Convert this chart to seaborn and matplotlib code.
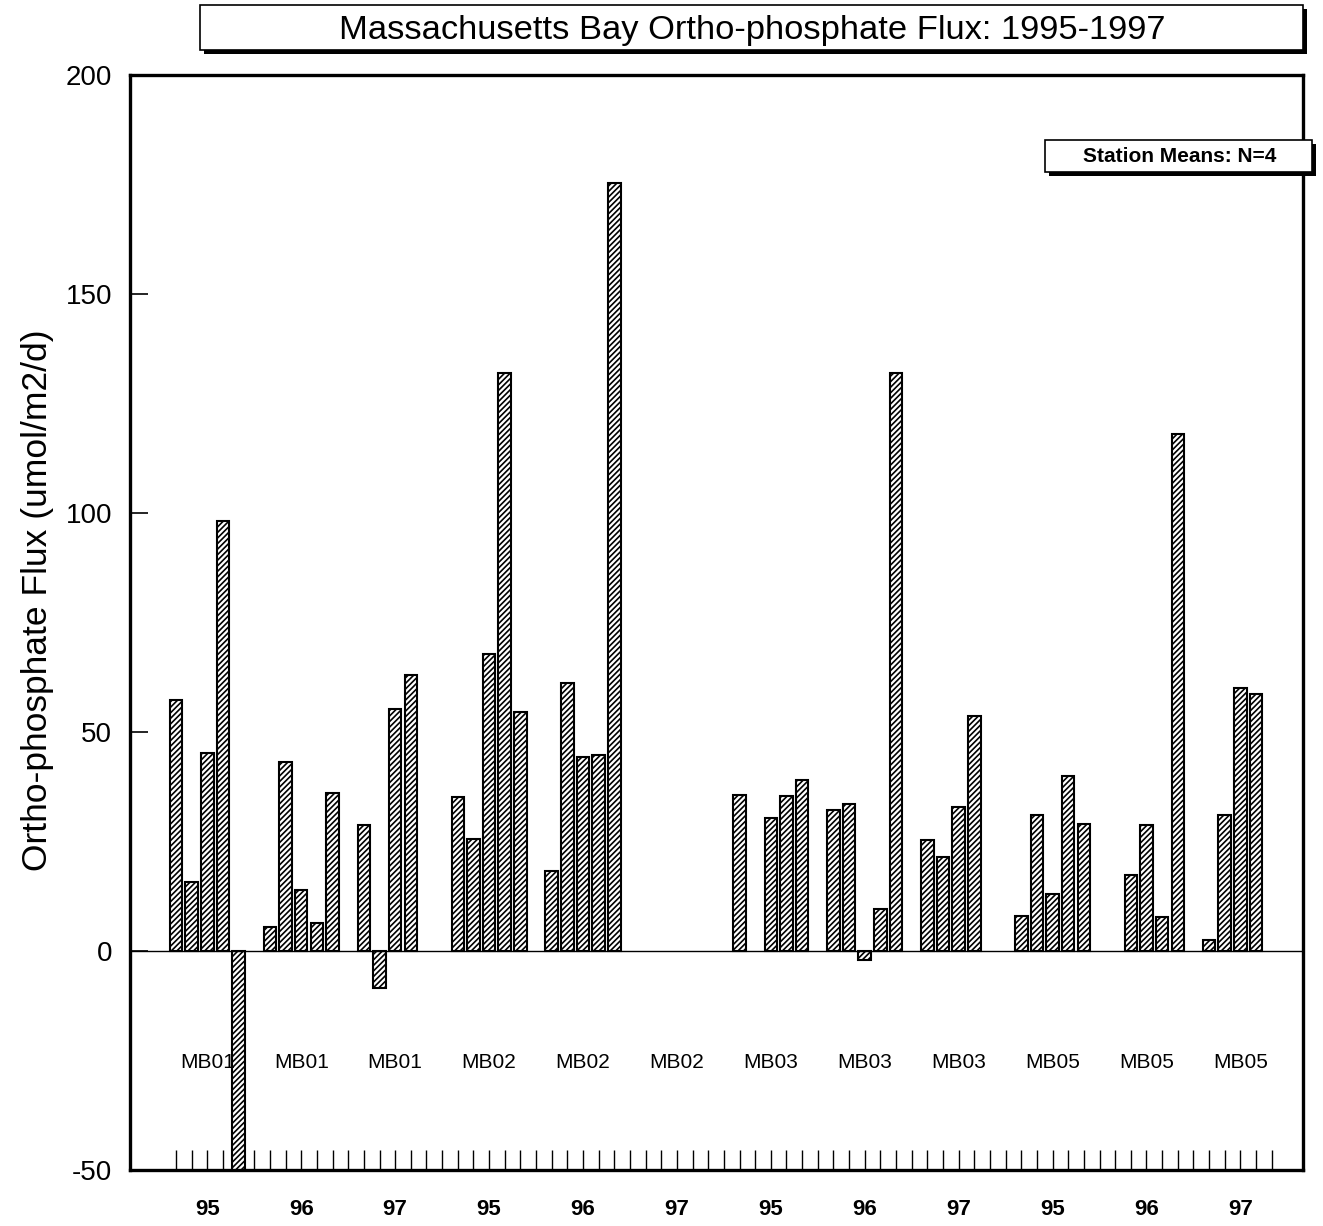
import pandas as pd
import matplotlib
matplotlib.use("Agg")
import matplotlib.pyplot as plt
import seaborn as sns
from matplotlib.patches import Rectangle

# station / year groups along the x axis
stations = ["MB01", "MB01", "MB01", "MB02", "MB02", "MB02",
            "MB03", "MB03", "MB03", "MB05", "MB05", "MB05"]
years = ["95", "96", "97", "95", "96", "97",
         "95", "96", "97", "95", "96", "97"]

# five survey bars per station-year (umol/m2/d), None = no data
flux = [
    [57.3, 15.8, 45.3, 98.2, -56.0],
    [5.4, 43.1, 13.9, 6.5, 36.0],
    [28.8, -8.5, 55.2, 63.0, None],
    [35.1, 25.6, 67.8, 131.9, 54.6],
    [18.2, 61.2, 44.4, 44.8, 175.3],
    [None, None, None, None, None],
    [35.6, None, 30.3, 35.3, 39.1],
    [32.3, 33.6, -2.0, 9.7, 132.0],
    [25.3, 21.4, 32.8, 53.6, None],
    [7.9, 31.0, 13.0, 40.0, 29.1],
    [None, 17.3, 28.8, 7.7, 118.0],
    [2.5, 31.1, 60.0, 58.6, None],
]

slots_per_group = 6
rows = []
for g, vals in enumerate(flux):
    for k, v in enumerate(vals):
        if v is not None:
            rows.append({"slot": slots_per_group * g + k, "flux": v})
df = pd.DataFrame(rows)

sns.set_theme(style="white")
plt.rcParams["font.family"] = ["Liberation Sans", "DejaVu Sans"]
plt.rcParams["hatch.linewidth"] = 1.2
plt.rcParams["axes.unicode_minus"] = False
plt.rcParams["text.color"] = "black"
plt.rcParams["axes.labelcolor"] = "black"
plt.rcParams["xtick.color"] = "black"
plt.rcParams["ytick.color"] = "black"

W, H = 1323, 1226
fig = plt.figure(figsize=(W / 100, H / 100), dpi=100)
ax = fig.add_axes([130 / W, 1 - 1170 / H, 1173 / W, 1095 / H])

sns.barplot(data=df, x="slot", y="flux", native_scale=True, width=0.8,
            color="white", edgecolor="black", linewidth=1.5,
            errorbar=None, ax=ax)
for p in ax.patches:
    p.set_hatch("//////")
    p.set_facecolor("white")

ax.axhline(0, color="black", lw=1.0, zorder=1)
ax.set_xlim(-2.94, 72.0)
ax.set_ylim(-50, 200)

# y axis
ax.set_yticks([-50, 0, 50, 100, 150, 200])
ax.tick_params(axis="y", direction="in", length=13, width=1.2,
               labelsize=20, pad=13, left=True)
ax.set_ylabel("Ortho-phosphate Flux (umol/m2/d)", fontsize=25.5)
ax.yaxis.set_label_coords(-0.065, 0.52)

# x axis: year labels at group centres, small ticks at every slot
centers = [slots_per_group * g + 2 for g in range(len(years))]
ax.set_xticks(centers)
ax.set_xticklabels(years, fontsize=16, fontweight="bold")
ax.set_xticks(range(0, slots_per_group * len(years) - 1), minor=True)
ax.tick_params(axis="x", which="both", direction="in", length=14.4,
               width=1.0, pad=21, bottom=True)
ax.set_xlabel("")

for s in ax.spines.values():
    s.set_color("black")
    s.set_linewidth(2.4)

for c, st in zip(centers, stations):
    ax.text(c, -25.5, st, ha="center", va="center", fontsize=15)


def shadow_box(x0, y0, x1, y1, off=4):
    fig.add_artist(Rectangle(((x0 + off) / W, 1 - (y1 + off) / H),
                             (x1 - x0) / W, (y1 - y0) / H,
                             transform=fig.transFigure, facecolor="black",
                             edgecolor="black", lw=0))
    fig.add_artist(Rectangle((x0 / W, 1 - y1 / H), (x1 - x0) / W,
                             (y1 - y0) / H, transform=fig.transFigure,
                             facecolor="white", edgecolor="black", lw=1.2))


# title box
shadow_box(200, 5, 1303, 50)
fig.text(752 / W, 1 - 30 / H,
         "Massachusetts Bay Ortho-phosphate Flux: 1995-1997",
         ha="center", va="center", fontsize=24.8)

# legend box
shadow_box(1045, 140, 1312, 172)
fig.text(1180 / W, 1 - 157 / H, "Station Means: N=4",
         ha="center", va="center", fontsize=15, fontweight="bold")

fig.savefig("out.png", dpi=100)
